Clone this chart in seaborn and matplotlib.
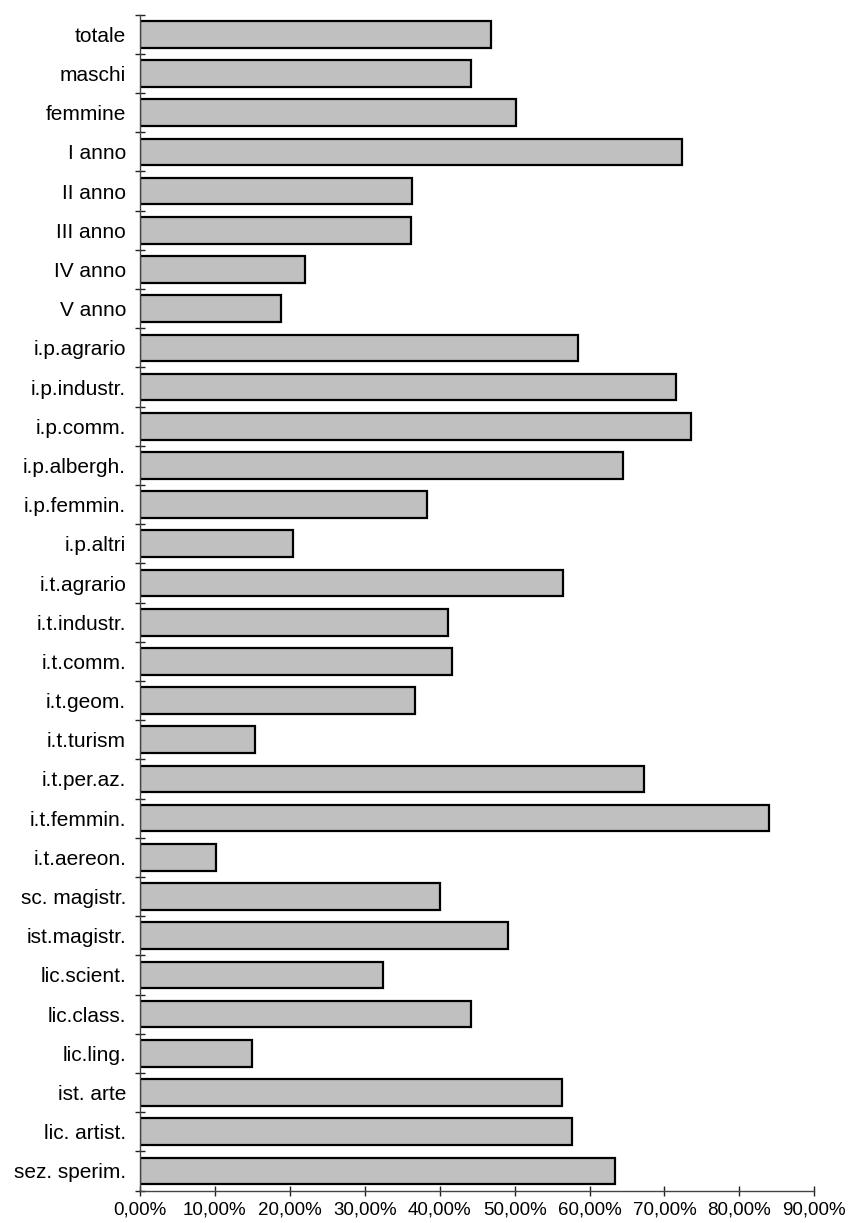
import matplotlib
matplotlib.use('Agg')
import matplotlib.pyplot as plt
import seaborn as sns
from matplotlib.ticker import FixedLocator, FuncFormatter

categories = ['totale', 'maschi', 'femmine', 'I anno', 'II anno', 'III anno',
              'IV anno', 'V anno', 'i.p.agrario', 'i.p.industr.', 'i.p.comm.',
              'i.p.albergh.', 'i.p.femmin.', 'i.p.altri', 'i.t.agrario',
              'i.t.industr.', 'i.t.comm.', 'i.t.geom.', 'i.t.turism',
              'i.t.per.az.', 'i.t.femmin.', 'i.t.aereon.', 'sc. magistr.',
              'ist.magistr.', 'lic.scient.', 'lic.class.', 'lic.ling.',
              'ist. arte', 'lic. artist.', 'sez. sperim.']
values = [46.9, 44.2, 50.2, 72.3, 36.3, 36.2, 22.0, 18.8,
          58.5, 71.5, 73.6, 64.5, 38.3, 20.4, 56.4, 41.1,
          41.6, 36.7, 15.4, 67.3, 83.9, 10.2, 40.1, 49.1,
          32.5, 44.2, 15.0, 56.3, 57.7, 63.4]
x_ticks = [0, 10, 20, 30, 40, 50, 60, 70, 80, 90]

sns.set_style('white')
plt.rcParams['font.family'] = ['Liberation Sans', 'DejaVu Sans']

fig = plt.figure(figsize=(8.5, 12.23), dpi=100)
ax = fig.add_axes([140 / 850, 1 - 1190.5 / 1223, (814.3 - 140) / 850, (1190.5 - 14.7) / 1223])

fracs = [v / 100 for v in values]
sns.barplot(x=fracs, y=categories, orient='h', color='#c0c0c0', saturation=1,
            edgecolor='black', linewidth=1.6, width=0.68, ax=ax)

ax.set_xlim(0, 0.9)
ax.set_ylim(len(categories) - 0.5, -0.5)
ax.set_xticks([t / 100 for t in x_ticks])
ax.xaxis.set_major_formatter(FuncFormatter(lambda v, p: '{:.2f}%'.format(v * 100).replace('.', ',')))
ax.set_xlabel('')
ax.set_ylabel('')

# category separators as small ticks on the y axis
ax.yaxis.set_minor_locator(FixedLocator([i - 0.5 for i in range(len(categories) + 1)]))
ax.tick_params(axis='y', which='major', left=False, length=0, pad=10, labelsize=15,
               labelcolor='black')
ax.tick_params(axis='y', which='minor', left=True, length=7.5, direction='inout',
               width=1, color='#222222')
ax.tick_params(axis='x', which='major', bottom=True, length=7.5, direction='inout', width=1,
               color='#222222', pad=4.3, labelsize=13.5, labelcolor='black')

for s in ['top', 'right']:
    ax.spines[s].set_visible(False)
for s in ['left', 'bottom']:
    ax.spines[s].set_color('#444444')
    ax.spines[s].set_linewidth(1)

fig.savefig('out.png', dpi=100)
